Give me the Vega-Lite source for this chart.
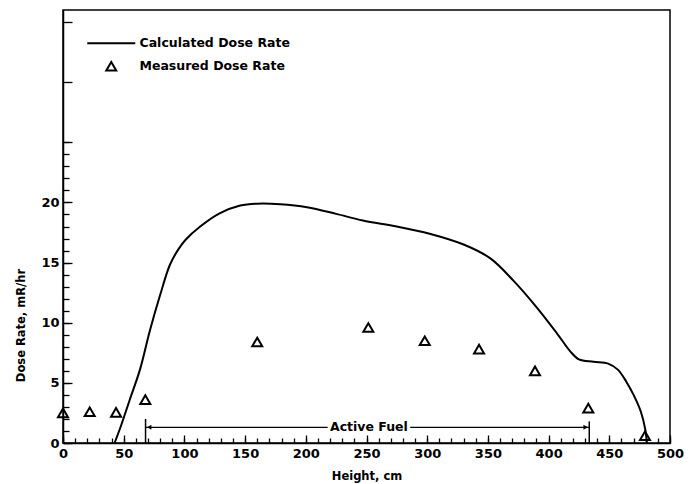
{
  "$schema": "https://vega.github.io/schema/vega-lite/v6.json",
  "width": 607,
  "height": 433,
  "autosize": {"type": "none"},
  "padding": {"left": 63, "top": 10, "right": 30, "bottom": 41},
  "background": "white",
  "config": {
    "view": {"stroke": "black", "strokeWidth": 1.5},
    "font": "DejaVu Sans",
    "axis": {
      "domainColor": "black", "domainWidth": 1.5,
      "tickColor": "black", "tickWidth": 1.3,
      "labelColor": "black", "labelFont": "DejaVu Sans", "labelFontWeight": "bold", "labelFontSize": 13,
      "titleFont": "DejaVu Sans", "titleFontWeight": "bold", "titleFontSize": 11.5, "titleColor": "black",
      "grid": false
    },
    "legend": {
      "orient": "none", "legendX": 42, "legendY": 27, "padding": 0,
      "labelFont": "DejaVu Sans", "labelFontWeight": "bold", "labelFontSize": 12.5, "labelColor": "black",
      "symbolStrokeWidth": 2, "symbolStrokeColor": "black", "symbolFillColor": "transparent",
      "symbolSize": 100, "labelOffset": 22, "rowPadding": 7
    }
  },
  "datasets": {
    "calc": [
      {"x": 42.5, "y": 0}, {"x": 48, "y": 1.5}, {"x": 55, "y": 3.6}, {"x": 63.4, "y": 6.1},
      {"x": 71.7, "y": 9.4}, {"x": 80, "y": 12.3}, {"x": 88, "y": 14.8}, {"x": 95, "y": 16.1},
      {"x": 101, "y": 16.9}, {"x": 113, "y": 18.0}, {"x": 129, "y": 19.1}, {"x": 146, "y": 19.75},
      {"x": 160, "y": 19.9}, {"x": 179, "y": 19.85}, {"x": 201, "y": 19.6}, {"x": 225, "y": 19.05},
      {"x": 247, "y": 18.5}, {"x": 275, "y": 18.0}, {"x": 302, "y": 17.4}, {"x": 330, "y": 16.5},
      {"x": 352, "y": 15.35}, {"x": 371, "y": 13.5}, {"x": 390, "y": 11.3}, {"x": 407, "y": 9.1},
      {"x": 418, "y": 7.6}, {"x": 425, "y": 6.95}, {"x": 437, "y": 6.75}, {"x": 449, "y": 6.6},
      {"x": 457, "y": 6.1}, {"x": 464, "y": 5.1}, {"x": 470, "y": 4.0}, {"x": 476, "y": 2.6},
      {"x": 479.5, "y": 1.2}, {"x": 481, "y": 0}
    ],
    "meas": [
      {"x": 0, "y": 2.5, "series": "Measured Dose Rate"},
      {"x": 22, "y": 2.6, "series": "Measured Dose Rate"},
      {"x": 43.7, "y": 2.55, "series": "Measured Dose Rate"},
      {"x": 67.8, "y": 3.6, "series": "Measured Dose Rate"},
      {"x": 160, "y": 8.4, "series": "Measured Dose Rate"},
      {"x": 251.5, "y": 9.6, "series": "Measured Dose Rate"},
      {"x": 298, "y": 8.5, "series": "Measured Dose Rate"},
      {"x": 342.7, "y": 7.8, "series": "Measured Dose Rate"},
      {"x": 388.8, "y": 6.0, "series": "Measured Dose Rate"},
      {"x": 432.7, "y": 2.9, "series": "Measured Dose Rate"},
      {"x": 479.4, "y": 0.6, "series": "Measured Dose Rate"}
    ],
    "bars": [{"x": 68, "y": 0, "y2": 2.0}, {"x": 433.5, "y": 0, "y2": 1.8}],
    "segs": [{"x": 68, "x2": 218, "y": 1.3}, {"x": 286, "x2": 433.5, "y": 1.3}],
    "headL": [{"x": 71, "y": 1.3}],
    "headR": [{"x": 430.5, "y": 1.3}],
    "label": [{"x": 252, "y": 1.3, "text": "Active Fuel"}]
  },
  "layer": [
    {
      "data": {"name": "calc"},
      "mark": {"type": "line", "color": "black", "strokeWidth": 2, "interpolate": "catmull-rom"},
      "encoding": {
        "x": {"field": "x", "type": "quantitative", "scale": {"domain": [0, 500], "nice": false},
          "axis": {"orient": "bottom", "values": [0, 50, 100, 150, 200, 250, 300, 350, 400, 450, 500],
            "labelFlush": false, "labelOverlap": false, "labelBound": false,
            "tickSize": -8, "labelPadding": 12, "title": "Height, cm", "titlePadding": 10}},
        "y": {"field": "y", "type": "quantitative", "scale": {"domain": [0, 36], "nice": false},
          "axis": {"orient": "left", "values": [0, 5, 10, 15, 20, 25, 30, 35], "tickSize": -9, "labelPadding": 13,
            "labelFlush": false, "labelOverlap": false,
            "labelExpr": "datum.value <= 20 ? datum.label : ''",
            "title": "Dose Rate, mR/hr", "titleX": -42, "titleY": 315, "titleBaseline": "middle", "titleAngle": 270}}
      }
    },
    {
      "data": {"name": "meas"},
      "mark": {"type": "point", "filled": false, "stroke": "black", "strokeWidth": 2, "size": 100, "opacity": 1},
      "encoding": {
        "x": {"field": "x", "type": "quantitative", "scale": {"domain": [0, 500], "nice": false},
          "axis": {"orient": "bottom", "values": [0,10,20,30,40,50,60,70,80,90,100,110,120,130,140,150,160,170,180,190,200,210,220,230,240,250,260,270,280,290,300,310,320,330,340,350,360,370,380,390,400,410,420,430,440,450,460,470,480,490,500],
            "tickSize": -5, "labels": false, "domain": false, "title": null}},
        "y": {"field": "y", "type": "quantitative", "scale": {"domain": [0, 36], "nice": false},
          "axis": {"orient": "left", "values": [0,1,2,3,4,5,6,7,8,9,10,11,12,13,14,15,16,17,18,19,20,21,22,23,24,25],
            "tickSize": -6, "labels": false, "domain": false, "title": null}},
        "shape": {"field": "series", "type": "nominal",
          "scale": {"domain": ["Calculated Dose Rate", "Measured Dose Rate"], "range": ["M-4.8,0H4.8", "triangle-up"]},
          "legend": {"title": null}}
      }
    },
    {
      "data": {"name": "bars"},
      "mark": {"type": "rule", "color": "black", "strokeWidth": 1.5},
      "encoding": {
        "x": {"field": "x", "type": "quantitative", "axis": null},
        "y": {"field": "y", "type": "quantitative", "axis": null},
        "y2": {"field": "y2"}
      }
    },
    {
      "data": {"name": "segs"},
      "mark": {"type": "rule", "color": "black", "strokeWidth": 1.3},
      "encoding": {
        "x": {"field": "x", "type": "quantitative", "axis": null},
        "x2": {"field": "x2"},
        "y": {"field": "y", "type": "quantitative", "axis": null}
      }
    },
    {
      "data": {"name": "headL"},
      "mark": {"type": "point", "shape": "triangle-left", "filled": true, "color": "black", "size": 25, "opacity": 1},
      "encoding": {
        "x": {"field": "x", "type": "quantitative", "axis": null},
        "y": {"field": "y", "type": "quantitative", "axis": null}
      }
    },
    {
      "data": {"name": "headR"},
      "mark": {"type": "point", "shape": "triangle-right", "filled": true, "color": "black", "size": 25, "opacity": 1},
      "encoding": {
        "x": {"field": "x", "type": "quantitative", "axis": null},
        "y": {"field": "y", "type": "quantitative", "axis": null}
      }
    },
    {
      "data": {"name": "label"},
      "mark": {"type": "text", "font": "DejaVu Sans", "fontWeight": "bold", "fontSize": 12.5, "color": "black", "baseline": "middle", "align": "center"},
      "encoding": {
        "x": {"field": "x", "type": "quantitative", "axis": null},
        "y": {"field": "y", "type": "quantitative", "axis": null},
        "text": {"field": "text"}
      }
    }
  ],
  "resolve": {"axis": {"x": "independent", "y": "independent"}}
}
